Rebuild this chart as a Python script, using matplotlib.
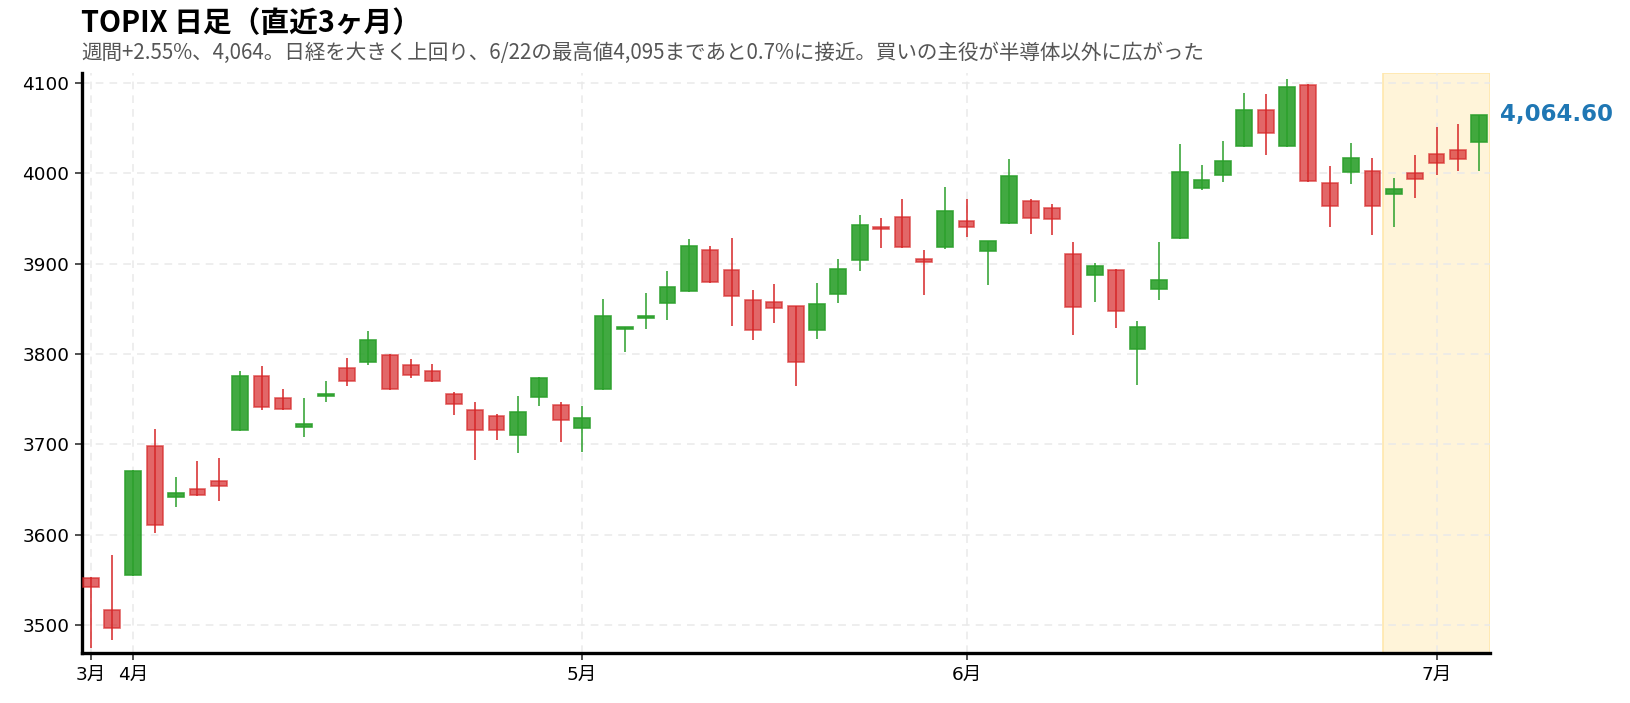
import matplotlib
matplotlib.use("Agg")
import matplotlib.pyplot as plt
import numpy as np
import pandas as pd

plt.rcParams['font.family'] = ['Noto Sans CJK JP', 'DejaVu Sans']

# ---- data ----
holidays = ['2026-04-29', '2026-05-04', '2026-05-05', '2026-05-06']
dates = [d for d in pd.bdate_range('2026-03-30', '2026-07-03') if d.strftime('%Y-%m-%d') not in holidays]

opens = [3552, 3517, 3555, 3698, 3642, 3651, 3659, 3716, 3776, 3751,
         3719, 3754, 3784, 3791, 3799, 3788, 3781, 3756, 3738, 3731,
         3710, 3752, 3743, 3718, 3761, 3828, 3840, 3856, 3870, 3915,
         3893, 3860, 3857, 3853, 3826, 3866, 3904, 3940, 3952, 3905,
         3918, 3947, 3914, 3945, 3969, 3962, 3911, 3887, 3893, 3806,
         3872, 3928, 3984, 3998, 4030, 4070, 4030, 4098, 3989, 4001,
         4002, 3977, 4000, 4021, 4026, 4035]
highs = [3553, 3577, 3672, 3717, 3664, 3682, 3685, 3781, 3787, 3761,
         3751, 3770, 3795, 3825, 3800, 3794, 3789, 3758, 3747, 3733,
         3754, 3774, 3747, 3742, 3861, 3830, 3867, 3892, 3927, 3919,
         3928, 3871, 3877, 3853, 3879, 3905, 3954, 3951, 3971, 3915,
         3985, 3971, 3925, 4016, 3971, 3966, 3924, 3901, 3894, 3837,
         3924, 4032, 4009, 4036, 4089, 4088, 4104, 4099, 4008, 4034,
         4017, 3995, 4020, 4051, 4054, 4065]
lows = [3474, 3483, 3554, 3602, 3631, 3643, 3637, 3715, 3738, 3738,
        3708, 3747, 3764, 3788, 3760, 3773, 3769, 3732, 3683, 3705,
        3690, 3742, 3703, 3692, 3760, 3802, 3828, 3838, 3869, 3878,
        3831, 3815, 3834, 3765, 3817, 3856, 3892, 3917, 3917, 3865,
        3916, 3930, 3876, 3944, 3933, 3932, 3821, 3857, 3829, 3766,
        3860, 3927, 3981, 3990, 4029, 4020, 4029, 3990, 3940, 3988,
        3932, 3941, 3973, 3998, 4003, 4003]
closes = [3542, 3497, 3671, 3611, 3646, 3644, 3654, 3776, 3741, 3739,
          3723, 3756, 3770, 3815, 3761, 3777, 3770, 3745, 3716, 3716,
          3736, 3773, 3727, 3729, 3842, 3830, 3842, 3874, 3920, 3880,
          3864, 3826, 3851, 3791, 3855, 3894, 3943, 3938, 3918, 3902,
          3958, 3941, 3925, 3997, 3951, 3949, 3852, 3897, 3848, 3830,
          3882, 4001, 3992, 4014, 4070, 4045, 4095, 3991, 3964, 4017,
          3964, 3983, 3994, 4011, 4016, 4064.60]

title = 'TOPIX 日足（直近3ヶ月）'
subtitle = '週間+2.55%、4,064。日経を大きく上回り、6/22の最高値4,095まであと0.7%に接近。買いの主役が半導体以外に広がった'
yticks = [3500, 3600, 3700, 3800, 3900, 4000, 4100]
highlight_days = 5  # last week

# ---- plot ----
fig = plt.figure(figsize=(16.3, 7.03), dpi=100)
ax = fig.add_axes([0.0501, 0.0711, 0.8640, 0.8251])

o = np.array(opens, float); h = np.array(highs, float)
l = np.array(lows, float); c = np.array(closes, float)
x = np.arange(len(o))
up = c >= o

green = '#2ca02c'
red = '#d62728'
cols = np.where(up, green, red)

ax.vlines(x, l, h, colors=cols, linewidth=1.3, alpha=0.85, zorder=2)
bottoms = np.minimum(o, c)
heights = np.maximum(np.abs(c - o), 0.8)
for xi, b, hh, u in zip(x, bottoms, heights, up):
    if u:
        ax.bar(xi, hh, bottom=b, width=0.74, color=green, alpha=0.9,
               edgecolor=green, linewidth=1.2, zorder=3)
    else:
        ax.bar(xi, hh, bottom=b, width=0.74, color=red, alpha=0.7,
               edgecolor=red, linewidth=1.2, zorder=3)

n = len(o)
ax.axvspan(n - highlight_days - 0.5, n - 0.5, facecolor='#fff4d9',
           edgecolor='#ffe7ad', linewidth=1.2, zorder=0)

# month ticks at first trading day of each month
months = [d.month for d in dates]
tick_pos = [i for i in range(n) if i == 0 or months[i] != months[i - 1]]
tick_lab = [f'{months[i]}月' for i in tick_pos]
tick_font = ['DejaVu Sans', 'Noto Sans CJK JP']
ax.set_xticks(tick_pos)
ax.set_xticklabels(tick_lab, fontsize=13.3, family=tick_font)
ax.set_yticks(yticks)
ax.set_yticklabels([str(v) for v in yticks], fontsize=13.3, family=tick_font)

ax.set_xlim(-0.42, n - 0.5)
ax.set_ylim(3469, 4111)

ax.grid(True, linestyle=(0, (5, 4)), color='#e9e9e9', linewidth=1.1, zorder=1)
ax.set_axisbelow(True)
for s in ['top', 'right']:
    ax.spines[s].set_visible(False)
for s in ['left', 'bottom']:
    ax.spines[s].set_linewidth(2.4)
    ax.spines[s].set_color('black')
ax.tick_params(axis='both', length=5, width=1.2, color='#333333', pad=4)

ax.text(1.007, c[-1], f'{c[-1]:,.2f}', transform=ax.get_yaxis_transform(),
        fontsize=16.5, fontweight='bold', color='#1f77b4', va='center', ha='left',
        family=['DejaVu Sans'])

fig.text(0.0497, 0.967, title, fontsize=20.7, fontweight='bold', va='center', ha='left')
fig.text(0.0497, 0.925, subtitle, fontsize=14.8, color='#555555', va='center', ha='left')

fig.savefig('out.png', dpi=100)
